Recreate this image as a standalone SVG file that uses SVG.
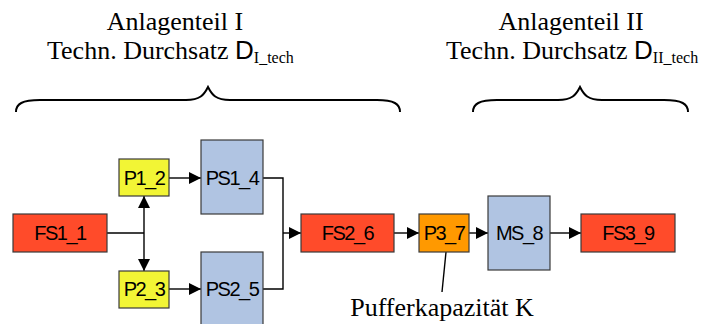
<svg xmlns="http://www.w3.org/2000/svg" width="708" height="324" viewBox="0 0 708 324">
<defs>
<style>
.hdr{font-family:"Liberation Serif","Times New Roman",serif;font-size:26px;fill:#000}
.dsym{font-family:"Liberation Sans",Arial,sans-serif;font-size:26px}
.sub{font-size:16px}
.box{stroke:#3a3a3a;stroke-width:1.2}
.lbl{font-family:"Liberation Sans",Arial,sans-serif;font-size:20px;letter-spacing:-1.5px;fill:#000;text-anchor:middle}
.red{fill:#FF4B2A}
.yel{fill:#F2F535}
.blu{fill:#B0C4E2}
.org{fill:#FF9900}
.ln{fill:none;stroke:#000;stroke-width:1.4}
.brace{fill:none;stroke:#000;stroke-width:2}
</style>
<marker id="ah" markerUnits="userSpaceOnUse" markerWidth="12" markerHeight="12" refX="12" refY="6" orient="auto">
<path d="M0,0 L12,6 L0,12 z" fill="#000"/>
</marker>
</defs>
<rect width="708" height="324" fill="#fff"/>

<g id="header1">
<text class="hdr" x="175" y="30" text-anchor="middle">Anlagenteil I</text>
<text class="hdr" x="47" y="59">Techn. Durchsatz <tspan class="dsym">D</tspan><tspan class="sub" dy="4">I_tech</tspan></text>
<path class="brace" d="M16,112 C16,104 22,100 40,100 L186,100 C200,100 204,95 208,87 C212,95 216,100 230,100 L377,100 C394,100 400,104 400,112"/>
</g>
<g id="header2">
<text class="hdr" x="571" y="30" text-anchor="middle">Anlagenteil II</text>
<text class="hdr" x="446" y="59">Techn. Durchsatz <tspan class="dsym">D</tspan><tspan class="sub" dy="4">II_tech</tspan></text>
<path class="brace" d="M473,112 C473,104 479,100 497,100 L558,100 C572,100 576,95 580,87 C584,95 588,100 602,100 L664,100 C682,100 688,104 688,112"/>
</g>

<g id="connectors">
<path class="ln" d="M107,233 H144"/>
<path class="ln" d="M144,233 V196" marker-end="url(#ah)"/>
<path class="ln" d="M144,233 V271" marker-end="url(#ah)"/>
<path class="ln" d="M169,178 H201" marker-end="url(#ah)"/>
<path class="ln" d="M169,289 H201" marker-end="url(#ah)"/>
<path class="ln" d="M263,178 H283 V289 H263"/>
<path class="ln" d="M283,233 H301" marker-end="url(#ah)"/>
<path class="ln" d="M394,233 H419" marker-end="url(#ah)"/>
<path class="ln" d="M469,233 H488" marker-end="url(#ah)"/>
<path class="ln" d="M550,233 H581" marker-end="url(#ah)"/>
<path class="ln" d="M446,252 L442,292"/>
</g>

<g id="FS1_1"><rect class="box red" x="13" y="214" width="94" height="38"/><text class="lbl" x="60" y="240">FS1_1</text></g>
<g id="P1_2"><rect class="box yel" x="119" y="159" width="50" height="37"/><text class="lbl" x="144" y="185">P1_2</text></g>
<g id="P2_3"><rect class="box yel" x="119" y="271" width="50" height="37"/><text class="lbl" x="144" y="296">P2_3</text></g>
<g id="PS1_4"><rect class="box blu" x="201" y="140" width="62" height="74"/><text class="lbl" x="232" y="185">PS1_4</text></g>
<g id="PS2_5"><rect class="box blu" x="201" y="252" width="62" height="80"/><text class="lbl" x="232" y="296">PS2_5</text></g>
<g id="FS2_6"><rect class="box red" x="301" y="214" width="93" height="38"/><text class="lbl" x="347.5" y="240">FS2_6</text></g>
<g id="P3_7"><rect class="box org" x="419" y="214" width="50" height="38"/><text class="lbl" x="444" y="240">P3_7</text></g>
<g id="MS_8"><rect class="box blu" x="488" y="196" width="62" height="74"/><text class="lbl" x="519" y="240">MS_8</text></g>
<g id="FS3_9"><rect class="box red" x="581" y="214" width="94" height="38"/><text class="lbl" x="628" y="240">FS3_9</text></g>

<g id="label_K"><text class="hdr" x="442" y="316" text-anchor="middle">Pufferkapazität K</text></g>
</svg>
